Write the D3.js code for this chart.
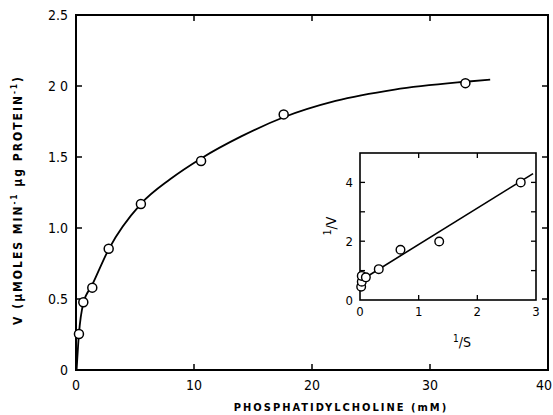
<!DOCTYPE html>
<html>
<head>
<meta charset="utf-8">
<script src="https://cdn.jsdelivr.net/npm/d3@7"></script>
<style>
  body { margin: 0; background: #fff; }
  svg { display: block; }
  text { font-family: "DejaVu Sans Condensed", "Liberation Sans Narrow", sans-serif; fill: #000; }
</style>
</head>
<body>
<svg id="chart" width="553" height="415"></svg>
<script>
// main plot: V vs phosphatidylcholine (mM)
var conc = [0.25, 0.62, 1.38, 2.77, 5.5, 10.6, 17.6, 33.0];
var rate = [0.254, 0.477, 0.58, 0.854, 1.169, 1.472, 1.80, 2.02];
// hand drawn curve
var curveX = [0.05, 0.25, 0.62, 1.38, 2.77, 5.5, 8, 10.6, 14, 17.6, 22, 27, 33.0, 35.1];
var curveY = [0, 0.254, 0.47, 0.6, 0.85, 1.17, 1.345, 1.49, 1.645, 1.78, 1.895, 1.975, 2.03, 2.045];
var xTicks = [0, 10, 20, 30, 40];
var yTicks = [0, 0.5, 1.0, 1.5, 2.0, 2.5];
var yTickText = ['0', '0.5', '1.0', '1.5', '2 0', '2.5'];

// inset: double reciprocal plot
var invS = [0.02, 0.03, 0.03, 0.1, 0.32, 0.69, 1.35, 2.74];
var invV = [0.45, 0.62, 0.82, 0.77, 1.05, 1.71, 1.99, 4.0];
var fitX = [0.08, 2.95];
var fitY = [0.75, 4.3];
var insetXTicks = [0, 1, 2, 3];
var insetYTicks = [0, 2, 4];

var svg = d3.select('#chart');

var x = d3.scaleLinear().domain([0, 40]).range([76, 548]);
var y = d3.scaleLinear().domain([0, 2.5]).range([370, 15]);

// frame
svg.append('rect')
    .attr('x', x(0)).attr('y', y(2.5))
    .attr('width', x(40) - x(0)).attr('height', y(0) - y(2.5))
    .attr('fill', 'none').attr('stroke', '#000').attr('stroke-width', 2);

// inward ticks, all four sides
var tl = 6;
[10, 20, 30].forEach(function (v) {
    svg.append('line').attr('x1', x(v)).attr('x2', x(v)).attr('y1', y(0)).attr('y2', y(0) - tl)
        .attr('stroke', '#000').attr('stroke-width', 1.5);
    svg.append('line').attr('x1', x(v)).attr('x2', x(v)).attr('y1', y(2.5)).attr('y2', y(2.5) + tl)
        .attr('stroke', '#000').attr('stroke-width', 1.5);
});
[0.5, 1.0, 1.5, 2.0].forEach(function (v) {
    svg.append('line').attr('x1', x(0)).attr('x2', x(0) + tl).attr('y1', y(v)).attr('y2', y(v))
        .attr('stroke', '#000').attr('stroke-width', 1.5);
    svg.append('line').attr('x1', x(40)).attr('x2', x(40) - tl).attr('y1', y(v)).attr('y2', y(v))
        .attr('stroke', '#000').attr('stroke-width', 1.5);
});

// tick labels
svg.selectAll('.xl').data(xTicks).enter().append('text')
    .attr('x', function (d) { return d === 40 ? x(d) + 4 : x(d); })
    .attr('y', 390)
    .attr('text-anchor', function (d) { return d === 40 ? 'end' : 'middle'; })
    .attr('font-size', 14)
    .text(function (d) { return d; });
svg.selectAll('.yl').data(yTicks).enter().append('text')
    .attr('x', 68)
    .attr('y', function (d) { return y(d) + 5; })
    .attr('text-anchor', 'end')
    .attr('font-size', 14)
    .text(function (d, i) { return yTickText[i]; });

// axis titles
svg.append('text')
    .attr('x', 341).attr('y', 411)
    .attr('text-anchor', 'middle')
    .attr('font-size', 11).attr('font-weight', 'bold')
    .attr('letter-spacing', 2)
    .text('PHOSPHATIDYLCHOLINE  (mM)');

var yt = svg.append('text')
    .attr('transform', 'translate(22,200) rotate(-90)')
    .attr('text-anchor', 'middle')
    .attr('font-size', 12).attr('font-weight', 'bold')
    .attr('letter-spacing', 2);
yt.append('tspan').text('V (');
yt.append('tspan').text('μMOLES MIN');
yt.append('tspan').attr('dy', -5).attr('font-size', 8).text('-1');
yt.append('tspan').attr('dy', 5).text(' μg PROTEIN');
yt.append('tspan').attr('dy', -5).attr('font-size', 8).text('-1');
yt.append('tspan').attr('dy', 5).text(')');

// curve
var line = d3.line()
    .x(function (d) { return x(d[0]); })
    .y(function (d) { return y(d[1]); })
    .curve(d3.curveMonotoneX);
svg.append('path')
    .datum(d3.zip(curveX, curveY))
    .attr('d', line)
    .attr('fill', 'none').attr('stroke', '#000').attr('stroke-width', 1.8);

svg.selectAll('.pt').data(d3.zip(conc, rate)).enter().append('circle')
    .attr('cx', function (d) { return x(d[0]); })
    .attr('cy', function (d) { return y(d[1]); })
    .attr('r', 4.5)
    .attr('fill', '#fff').attr('stroke', '#000').attr('stroke-width', 1.5);

// ---------- inset ----------
var ix = d3.scaleLinear().domain([0, 3]).range([360, 536]);
var iy = d3.scaleLinear().domain([0, 5]).range([300, 153]);

svg.append('rect')
    .attr('x', ix(0)).attr('y', iy(5))
    .attr('width', ix(3) - ix(0)).attr('height', iy(0) - iy(5))
    .attr('fill', '#fff').attr('stroke', '#000').attr('stroke-width', 1.6);

var itl = 5;
[1, 2].forEach(function (v) {
    svg.append('line').attr('x1', ix(v)).attr('x2', ix(v)).attr('y1', iy(0)).attr('y2', iy(0) - itl)
        .attr('stroke', '#000').attr('stroke-width', 1.3);
    svg.append('line').attr('x1', ix(v)).attr('x2', ix(v)).attr('y1', iy(5)).attr('y2', iy(5) + itl)
        .attr('stroke', '#000').attr('stroke-width', 1.3);
});
[1, 2, 3, 4].forEach(function (v) {
    svg.append('line').attr('x1', ix(0)).attr('x2', ix(0) + itl).attr('y1', iy(v)).attr('y2', iy(v))
        .attr('stroke', '#000').attr('stroke-width', 1.3);
    svg.append('line').attr('x1', ix(3)).attr('x2', ix(3) - itl).attr('y1', iy(v)).attr('y2', iy(v))
        .attr('stroke', '#000').attr('stroke-width', 1.3);
});

svg.selectAll('.ixl').data(insetXTicks).enter().append('text')
    .attr('x', function (d) { return ix(d); })
    .attr('y', 316)
    .attr('text-anchor', 'middle')
    .attr('font-size', 13)
    .text(function (d) { return d; });
svg.selectAll('.iyl').data(insetYTicks).enter().append('text')
    .attr('x', 353)
    .attr('y', function (d) { return iy(d) + 5; })
    .attr('text-anchor', 'end')
    .attr('font-size', 13)
    .text(function (d) { return d; });

// inset titles 1/V and 1/S
var iv = svg.append('text')
    .attr('transform', 'translate(336,226) rotate(-90)')
    .attr('text-anchor', 'middle')
    .attr('font-size', 14);
iv.append('tspan').attr('font-size', 10).attr('dy', -5).text('1');
iv.append('tspan').attr('dy', 5).text('/V');

var is = svg.append('text')
    .attr('x', 462).attr('y', 347)
    .attr('text-anchor', 'middle')
    .attr('font-size', 14);
is.append('tspan').attr('font-size', 10).attr('dy', -5).text('1');
is.append('tspan').attr('dy', 5).text('/S');

svg.append('line')
    .attr('x1', ix(fitX[0])).attr('y1', iy(fitY[0]))
    .attr('x2', ix(fitX[1])).attr('y2', iy(fitY[1]))
    .attr('stroke', '#000').attr('stroke-width', 1.6);

svg.selectAll('.ipt').data(d3.zip(invS, invV)).enter().append('circle')
    .attr('cx', function (d) { return ix(d[0]); })
    .attr('cy', function (d) { return iy(d[1]); })
    .attr('r', 4.3)
    .attr('fill', '#fff').attr('stroke', '#000').attr('stroke-width', 1.4);
</script>
</body>
</html>
